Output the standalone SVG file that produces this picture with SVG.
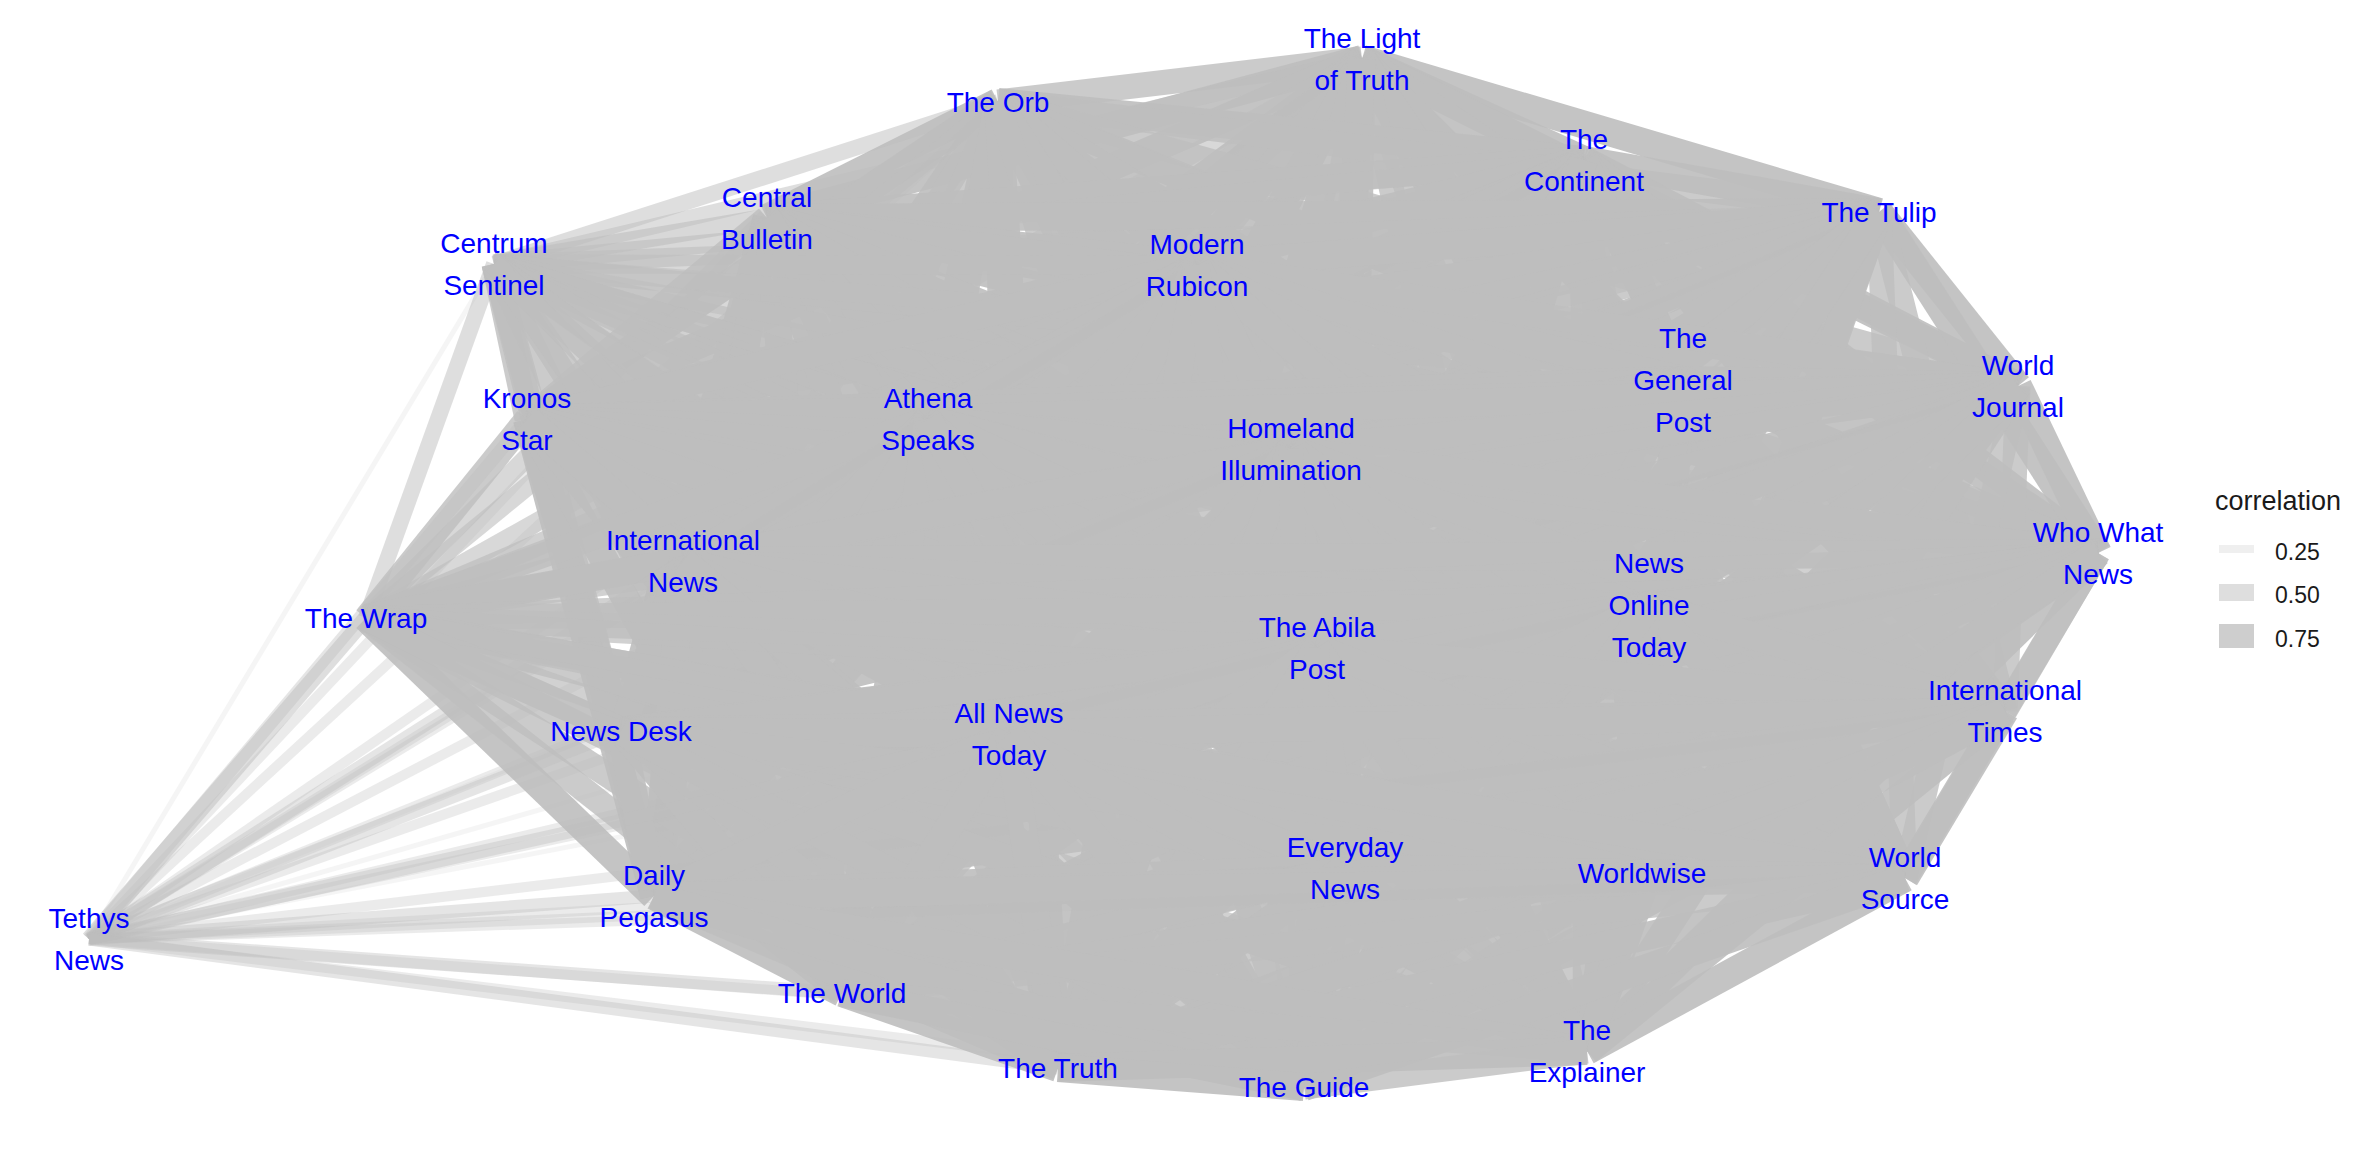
<svg xmlns="http://www.w3.org/2000/svg" width="2355" height="1156" viewBox="0 0 2355 1156">
<style>
.edges line{stroke:#bebebe;stroke-linecap:butt;fill:none}
.a1{stroke-width:5;stroke-opacity:.15}
.a2{stroke-width:10;stroke-opacity:.3}
.a3{stroke-width:13;stroke-opacity:.4}
.a4{stroke-width:16;stroke-opacity:.5}
.a5{stroke-width:19;stroke-opacity:.6}
.a6{stroke-width:22;stroke-opacity:.7}
.a7{stroke-width:25;stroke-opacity:.8}
.a8{stroke-width:28;stroke-opacity:.9}
.lbl{font-family:"Liberation Sans",Arial,sans-serif;font-size:28px;fill:#0000ff;text-anchor:middle}
.lt{font-family:"Liberation Sans",Arial,sans-serif;fill:#1a1a1a}
.key{fill:#bebebe}
</style>
<rect width="2355" height="1156" fill="#ffffff"/>
<g class="edges" id="connectors">
<line class="a7" x1="1362" y1="59" x2="998" y2="102"/>
<line class="a8" x1="1362" y1="59" x2="1584" y2="160"/>
<line class="a8" x1="1362" y1="59" x2="1879" y2="212"/>
<line class="a8" x1="1362" y1="59" x2="767" y2="218"/>
<line class="a4" x1="1362" y1="59" x2="494" y2="264"/>
<line class="a7" x1="1362" y1="59" x2="1197" y2="265"/>
<line class="a8" x1="1362" y1="59" x2="1683" y2="380"/>
<line class="a8" x1="1362" y1="59" x2="2018" y2="386"/>
<line class="a8" x1="1362" y1="59" x2="527" y2="419"/>
<line class="a8" x1="1362" y1="59" x2="928" y2="419"/>
<line class="a7" x1="1362" y1="59" x2="1291" y2="449"/>
<line class="a8" x1="1362" y1="59" x2="683" y2="561"/>
<line class="a8" x1="1362" y1="59" x2="2098" y2="553"/>
<line class="a5" x1="1362" y1="59" x2="366" y2="618"/>
<line class="a8" x1="1362" y1="59" x2="1649" y2="605"/>
<line class="a7" x1="1362" y1="59" x2="1317" y2="648"/>
<line class="a8" x1="1362" y1="59" x2="2005" y2="711"/>
<line class="a8" x1="1362" y1="59" x2="621" y2="731"/>
<line class="a8" x1="1362" y1="59" x2="1009" y2="734"/>
<line class="a8" x1="1362" y1="59" x2="1345" y2="868"/>
<line class="a7" x1="1362" y1="59" x2="1642" y2="873"/>
<line class="a8" x1="1362" y1="59" x2="1905" y2="878"/>
<line class="a8" x1="1362" y1="59" x2="654" y2="896"/>
<line class="a2" x1="1362" y1="59" x2="89" y2="939"/>
<line class="a8" x1="1362" y1="59" x2="842" y2="993"/>
<line class="a7" x1="1362" y1="59" x2="1587" y2="1051"/>
<line class="a8" x1="1362" y1="59" x2="1058" y2="1068"/>
<line class="a8" x1="1362" y1="59" x2="1304" y2="1087"/>
<line class="a8" x1="998" y1="102" x2="1584" y2="160"/>
<line class="a7" x1="998" y1="102" x2="1879" y2="212"/>
<line class="a8" x1="998" y1="102" x2="767" y2="218"/>
<line class="a4" x1="998" y1="102" x2="494" y2="264"/>
<line class="a8" x1="998" y1="102" x2="1197" y2="265"/>
<line class="a8" x1="998" y1="102" x2="1683" y2="380"/>
<line class="a7" x1="998" y1="102" x2="2018" y2="386"/>
<line class="a8" x1="998" y1="102" x2="527" y2="419"/>
<line class="a8" x1="998" y1="102" x2="928" y2="419"/>
<line class="a8" x1="998" y1="102" x2="1291" y2="449"/>
<line class="a8" x1="998" y1="102" x2="683" y2="561"/>
<line class="a7" x1="998" y1="102" x2="2098" y2="553"/>
<line class="a5" x1="998" y1="102" x2="366" y2="618"/>
<line class="a8" x1="998" y1="102" x2="1649" y2="605"/>
<line class="a8" x1="998" y1="102" x2="1317" y2="648"/>
<line class="a8" x1="998" y1="102" x2="2005" y2="711"/>
<line class="a7" x1="998" y1="102" x2="621" y2="731"/>
<line class="a8" x1="998" y1="102" x2="1009" y2="734"/>
<line class="a8" x1="998" y1="102" x2="1345" y2="868"/>
<line class="a8" x1="998" y1="102" x2="1642" y2="873"/>
<line class="a8" x1="998" y1="102" x2="1905" y2="878"/>
<line class="a7" x1="998" y1="102" x2="654" y2="896"/>
<line class="a2" x1="998" y1="102" x2="89" y2="939"/>
<line class="a8" x1="998" y1="102" x2="842" y2="993"/>
<line class="a8" x1="998" y1="102" x2="1587" y2="1051"/>
<line class="a8" x1="998" y1="102" x2="1058" y2="1068"/>
<line class="a7" x1="998" y1="102" x2="1304" y2="1087"/>
<line class="a8" x1="1584" y1="160" x2="1879" y2="212"/>
<line class="a8" x1="1584" y1="160" x2="767" y2="218"/>
<line class="a5" x1="1584" y1="160" x2="494" y2="264"/>
<line class="a8" x1="1584" y1="160" x2="1197" y2="265"/>
<line class="a8" x1="1584" y1="160" x2="1683" y2="380"/>
<line class="a8" x1="1584" y1="160" x2="2018" y2="386"/>
<line class="a8" x1="1584" y1="160" x2="527" y2="419"/>
<line class="a7" x1="1584" y1="160" x2="928" y2="419"/>
<line class="a8" x1="1584" y1="160" x2="1291" y2="449"/>
<line class="a8" x1="1584" y1="160" x2="683" y2="561"/>
<line class="a8" x1="1584" y1="160" x2="2098" y2="553"/>
<line class="a6" x1="1584" y1="160" x2="366" y2="618"/>
<line class="a7" x1="1584" y1="160" x2="1649" y2="605"/>
<line class="a8" x1="1584" y1="160" x2="1317" y2="648"/>
<line class="a8" x1="1584" y1="160" x2="2005" y2="711"/>
<line class="a8" x1="1584" y1="160" x2="621" y2="731"/>
<line class="a8" x1="1584" y1="160" x2="1009" y2="734"/>
<line class="a7" x1="1584" y1="160" x2="1345" y2="868"/>
<line class="a8" x1="1584" y1="160" x2="1642" y2="873"/>
<line class="a8" x1="1584" y1="160" x2="1905" y2="878"/>
<line class="a8" x1="1584" y1="160" x2="654" y2="896"/>
<line class="a2" x1="1584" y1="160" x2="89" y2="939"/>
<line class="a7" x1="1584" y1="160" x2="842" y2="993"/>
<line class="a8" x1="1584" y1="160" x2="1587" y2="1051"/>
<line class="a8" x1="1584" y1="160" x2="1058" y2="1068"/>
<line class="a8" x1="1584" y1="160" x2="1304" y2="1087"/>
<line class="a8" x1="1879" y1="212" x2="767" y2="218"/>
<line class="a5" x1="1879" y1="212" x2="494" y2="264"/>
<line class="a8" x1="1879" y1="212" x2="1197" y2="265"/>
<line class="a7" x1="1879" y1="212" x2="1683" y2="380"/>
<line class="a8" x1="1879" y1="212" x2="2018" y2="386"/>
<line class="a8" x1="1879" y1="212" x2="527" y2="419"/>
<line class="a8" x1="1879" y1="212" x2="928" y2="419"/>
<line class="a8" x1="1879" y1="212" x2="1291" y2="449"/>
<line class="a7" x1="1879" y1="212" x2="683" y2="561"/>
<line class="a8" x1="1879" y1="212" x2="2098" y2="553"/>
<line class="a6" x1="1879" y1="212" x2="366" y2="618"/>
<line class="a8" x1="1879" y1="212" x2="1649" y2="605"/>
<line class="a8" x1="1879" y1="212" x2="1317" y2="648"/>
<line class="a7" x1="1879" y1="212" x2="2005" y2="711"/>
<line class="a8" x1="1879" y1="212" x2="621" y2="731"/>
<line class="a8" x1="1879" y1="212" x2="1009" y2="734"/>
<line class="a8" x1="1879" y1="212" x2="1345" y2="868"/>
<line class="a8" x1="1879" y1="212" x2="1642" y2="873"/>
<line class="a7" x1="1879" y1="212" x2="1905" y2="878"/>
<line class="a8" x1="1879" y1="212" x2="654" y2="896"/>
<line class="a1" x1="1879" y1="212" x2="89" y2="939"/>
<line class="a8" x1="1879" y1="212" x2="842" y2="993"/>
<line class="a8" x1="1879" y1="212" x2="1587" y2="1051"/>
<line class="a7" x1="1879" y1="212" x2="1058" y2="1068"/>
<line class="a8" x1="1879" y1="212" x2="1304" y2="1087"/>
<line class="a5" x1="767" y1="218" x2="494" y2="264"/>
<line class="a8" x1="767" y1="218" x2="1197" y2="265"/>
<line class="a8" x1="767" y1="218" x2="1683" y2="380"/>
<line class="a8" x1="767" y1="218" x2="2018" y2="386"/>
<line class="a7" x1="767" y1="218" x2="527" y2="419"/>
<line class="a8" x1="767" y1="218" x2="928" y2="419"/>
<line class="a8" x1="767" y1="218" x2="1291" y2="449"/>
<line class="a8" x1="767" y1="218" x2="683" y2="561"/>
<line class="a8" x1="767" y1="218" x2="2098" y2="553"/>
<line class="a5" x1="767" y1="218" x2="366" y2="618"/>
<line class="a8" x1="767" y1="218" x2="1649" y2="605"/>
<line class="a8" x1="767" y1="218" x2="1317" y2="648"/>
<line class="a8" x1="767" y1="218" x2="2005" y2="711"/>
<line class="a8" x1="767" y1="218" x2="621" y2="731"/>
<line class="a7" x1="767" y1="218" x2="1009" y2="734"/>
<line class="a8" x1="767" y1="218" x2="1345" y2="868"/>
<line class="a8" x1="767" y1="218" x2="1642" y2="873"/>
<line class="a8" x1="767" y1="218" x2="1905" y2="878"/>
<line class="a8" x1="767" y1="218" x2="654" y2="896"/>
<line class="a2" x1="767" y1="218" x2="89" y2="939"/>
<line class="a8" x1="767" y1="218" x2="842" y2="993"/>
<line class="a8" x1="767" y1="218" x2="1587" y2="1051"/>
<line class="a8" x1="767" y1="218" x2="1058" y2="1068"/>
<line class="a8" x1="767" y1="218" x2="1304" y2="1087"/>
<line class="a5" x1="494" y1="264" x2="1197" y2="265"/>
<line class="a6" x1="494" y1="264" x2="1683" y2="380"/>
<line class="a5" x1="494" y1="264" x2="2018" y2="386"/>
<line class="a7" x1="494" y1="264" x2="527" y2="419"/>
<line class="a6" x1="494" y1="264" x2="928" y2="419"/>
<line class="a6" x1="494" y1="264" x2="1291" y2="449"/>
<line class="a7" x1="494" y1="264" x2="683" y2="561"/>
<line class="a5" x1="494" y1="264" x2="2098" y2="553"/>
<line class="a4" x1="494" y1="264" x2="366" y2="618"/>
<line class="a6" x1="494" y1="264" x2="1649" y2="605"/>
<line class="a6" x1="494" y1="264" x2="1317" y2="648"/>
<line class="a6" x1="494" y1="264" x2="2005" y2="711"/>
<line class="a7" x1="494" y1="264" x2="621" y2="731"/>
<line class="a7" x1="494" y1="264" x2="1009" y2="734"/>
<line class="a6" x1="494" y1="264" x2="1345" y2="868"/>
<line class="a6" x1="494" y1="264" x2="1642" y2="873"/>
<line class="a6" x1="494" y1="264" x2="1905" y2="878"/>
<line class="a7" x1="494" y1="264" x2="654" y2="896"/>
<line class="a1" x1="494" y1="264" x2="89" y2="939"/>
<line class="a7" x1="494" y1="264" x2="842" y2="993"/>
<line class="a6" x1="494" y1="264" x2="1587" y2="1051"/>
<line class="a7" x1="494" y1="264" x2="1058" y2="1068"/>
<line class="a6" x1="494" y1="264" x2="1304" y2="1087"/>
<line class="a8" x1="1197" y1="265" x2="1683" y2="380"/>
<line class="a7" x1="1197" y1="265" x2="2018" y2="386"/>
<line class="a8" x1="1197" y1="265" x2="527" y2="419"/>
<line class="a8" x1="1197" y1="265" x2="928" y2="419"/>
<line class="a8" x1="1197" y1="265" x2="1291" y2="449"/>
<line class="a8" x1="1197" y1="265" x2="683" y2="561"/>
<line class="a7" x1="1197" y1="265" x2="2098" y2="553"/>
<line class="a6" x1="1197" y1="265" x2="366" y2="618"/>
<line class="a8" x1="1197" y1="265" x2="1649" y2="605"/>
<line class="a8" x1="1197" y1="265" x2="1317" y2="648"/>
<line class="a8" x1="1197" y1="265" x2="2005" y2="711"/>
<line class="a7" x1="1197" y1="265" x2="621" y2="731"/>
<line class="a8" x1="1197" y1="265" x2="1009" y2="734"/>
<line class="a8" x1="1197" y1="265" x2="1345" y2="868"/>
<line class="a8" x1="1197" y1="265" x2="1642" y2="873"/>
<line class="a8" x1="1197" y1="265" x2="1905" y2="878"/>
<line class="a7" x1="1197" y1="265" x2="654" y2="896"/>
<line class="a2" x1="1197" y1="265" x2="89" y2="939"/>
<line class="a8" x1="1197" y1="265" x2="842" y2="993"/>
<line class="a8" x1="1197" y1="265" x2="1587" y2="1051"/>
<line class="a8" x1="1197" y1="265" x2="1058" y2="1068"/>
<line class="a7" x1="1197" y1="265" x2="1304" y2="1087"/>
<line class="a8" x1="1683" y1="380" x2="2018" y2="386"/>
<line class="a8" x1="1683" y1="380" x2="527" y2="419"/>
<line class="a7" x1="1683" y1="380" x2="928" y2="419"/>
<line class="a8" x1="1683" y1="380" x2="1291" y2="449"/>
<line class="a8" x1="1683" y1="380" x2="683" y2="561"/>
<line class="a8" x1="1683" y1="380" x2="2098" y2="553"/>
<line class="a7" x1="1683" y1="380" x2="366" y2="618"/>
<line class="a7" x1="1683" y1="380" x2="1649" y2="605"/>
<line class="a8" x1="1683" y1="380" x2="1317" y2="648"/>
<line class="a8" x1="1683" y1="380" x2="2005" y2="711"/>
<line class="a8" x1="1683" y1="380" x2="621" y2="731"/>
<line class="a8" x1="1683" y1="380" x2="1009" y2="734"/>
<line class="a7" x1="1683" y1="380" x2="1345" y2="868"/>
<line class="a8" x1="1683" y1="380" x2="1642" y2="873"/>
<line class="a8" x1="1683" y1="380" x2="1905" y2="878"/>
<line class="a8" x1="1683" y1="380" x2="654" y2="896"/>
<line class="a2" x1="1683" y1="380" x2="89" y2="939"/>
<line class="a7" x1="1683" y1="380" x2="842" y2="993"/>
<line class="a8" x1="1683" y1="380" x2="1587" y2="1051"/>
<line class="a8" x1="1683" y1="380" x2="1058" y2="1068"/>
<line class="a8" x1="1683" y1="380" x2="1304" y2="1087"/>
<line class="a8" x1="2018" y1="386" x2="527" y2="419"/>
<line class="a8" x1="2018" y1="386" x2="928" y2="419"/>
<line class="a8" x1="2018" y1="386" x2="1291" y2="449"/>
<line class="a7" x1="2018" y1="386" x2="683" y2="561"/>
<line class="a8" x1="2018" y1="386" x2="2098" y2="553"/>
<line class="a6" x1="2018" y1="386" x2="366" y2="618"/>
<line class="a8" x1="2018" y1="386" x2="1649" y2="605"/>
<line class="a8" x1="2018" y1="386" x2="1317" y2="648"/>
<line class="a7" x1="2018" y1="386" x2="2005" y2="711"/>
<line class="a8" x1="2018" y1="386" x2="621" y2="731"/>
<line class="a8" x1="2018" y1="386" x2="1009" y2="734"/>
<line class="a8" x1="2018" y1="386" x2="1345" y2="868"/>
<line class="a8" x1="2018" y1="386" x2="1642" y2="873"/>
<line class="a7" x1="2018" y1="386" x2="1905" y2="878"/>
<line class="a8" x1="2018" y1="386" x2="654" y2="896"/>
<line class="a1" x1="2018" y1="386" x2="89" y2="939"/>
<line class="a8" x1="2018" y1="386" x2="842" y2="993"/>
<line class="a8" x1="2018" y1="386" x2="1587" y2="1051"/>
<line class="a7" x1="2018" y1="386" x2="1058" y2="1068"/>
<line class="a8" x1="2018" y1="386" x2="1304" y2="1087"/>
<line class="a8" x1="527" y1="419" x2="928" y2="419"/>
<line class="a8" x1="527" y1="419" x2="1291" y2="449"/>
<line class="a8" x1="527" y1="419" x2="683" y2="561"/>
<line class="a8" x1="527" y1="419" x2="2098" y2="553"/>
<line class="a7" x1="527" y1="419" x2="366" y2="618"/>
<line class="a8" x1="527" y1="419" x2="1649" y2="605"/>
<line class="a8" x1="527" y1="419" x2="1317" y2="648"/>
<line class="a8" x1="527" y1="419" x2="2005" y2="711"/>
<line class="a8" x1="527" y1="419" x2="621" y2="731"/>
<line class="a7" x1="527" y1="419" x2="1009" y2="734"/>
<line class="a8" x1="527" y1="419" x2="1345" y2="868"/>
<line class="a8" x1="527" y1="419" x2="1642" y2="873"/>
<line class="a8" x1="527" y1="419" x2="1905" y2="878"/>
<line class="a8" x1="527" y1="419" x2="654" y2="896"/>
<line class="a3" x1="527" y1="419" x2="89" y2="939"/>
<line class="a8" x1="527" y1="419" x2="842" y2="993"/>
<line class="a8" x1="527" y1="419" x2="1587" y2="1051"/>
<line class="a8" x1="527" y1="419" x2="1058" y2="1068"/>
<line class="a8" x1="527" y1="419" x2="1304" y2="1087"/>
<line class="a7" x1="928" y1="419" x2="1291" y2="449"/>
<line class="a8" x1="928" y1="419" x2="683" y2="561"/>
<line class="a8" x1="928" y1="419" x2="2098" y2="553"/>
<line class="a7" x1="928" y1="419" x2="366" y2="618"/>
<line class="a8" x1="928" y1="419" x2="1649" y2="605"/>
<line class="a7" x1="928" y1="419" x2="1317" y2="648"/>
<line class="a8" x1="928" y1="419" x2="2005" y2="711"/>
<line class="a8" x1="928" y1="419" x2="621" y2="731"/>
<line class="a8" x1="928" y1="419" x2="1009" y2="734"/>
<line class="a8" x1="928" y1="419" x2="1345" y2="868"/>
<line class="a7" x1="928" y1="419" x2="1642" y2="873"/>
<line class="a8" x1="928" y1="419" x2="1905" y2="878"/>
<line class="a8" x1="928" y1="419" x2="654" y2="896"/>
<line class="a2" x1="928" y1="419" x2="89" y2="939"/>
<line class="a8" x1="928" y1="419" x2="842" y2="993"/>
<line class="a7" x1="928" y1="419" x2="1587" y2="1051"/>
<line class="a8" x1="928" y1="419" x2="1058" y2="1068"/>
<line class="a8" x1="928" y1="419" x2="1304" y2="1087"/>
<line class="a8" x1="1291" y1="449" x2="683" y2="561"/>
<line class="a7" x1="1291" y1="449" x2="2098" y2="553"/>
<line class="a7" x1="1291" y1="449" x2="366" y2="618"/>
<line class="a8" x1="1291" y1="449" x2="1649" y2="605"/>
<line class="a8" x1="1291" y1="449" x2="1317" y2="648"/>
<line class="a8" x1="1291" y1="449" x2="2005" y2="711"/>
<line class="a7" x1="1291" y1="449" x2="621" y2="731"/>
<line class="a8" x1="1291" y1="449" x2="1009" y2="734"/>
<line class="a8" x1="1291" y1="449" x2="1345" y2="868"/>
<line class="a8" x1="1291" y1="449" x2="1642" y2="873"/>
<line class="a8" x1="1291" y1="449" x2="1905" y2="878"/>
<line class="a7" x1="1291" y1="449" x2="654" y2="896"/>
<line class="a2" x1="1291" y1="449" x2="89" y2="939"/>
<line class="a8" x1="1291" y1="449" x2="842" y2="993"/>
<line class="a8" x1="1291" y1="449" x2="1587" y2="1051"/>
<line class="a8" x1="1291" y1="449" x2="1058" y2="1068"/>
<line class="a7" x1="1291" y1="449" x2="1304" y2="1087"/>
<line class="a8" x1="683" y1="561" x2="2098" y2="553"/>
<line class="a8" x1="683" y1="561" x2="366" y2="618"/>
<line class="a7" x1="683" y1="561" x2="1649" y2="605"/>
<line class="a8" x1="683" y1="561" x2="1317" y2="648"/>
<line class="a8" x1="683" y1="561" x2="2005" y2="711"/>
<line class="a8" x1="683" y1="561" x2="621" y2="731"/>
<line class="a8" x1="683" y1="561" x2="1009" y2="734"/>
<line class="a7" x1="683" y1="561" x2="1345" y2="868"/>
<line class="a8" x1="683" y1="561" x2="1642" y2="873"/>
<line class="a8" x1="683" y1="561" x2="1905" y2="878"/>
<line class="a8" x1="683" y1="561" x2="654" y2="896"/>
<line class="a3" x1="683" y1="561" x2="89" y2="939"/>
<line class="a7" x1="683" y1="561" x2="842" y2="993"/>
<line class="a8" x1="683" y1="561" x2="1587" y2="1051"/>
<line class="a8" x1="683" y1="561" x2="1058" y2="1068"/>
<line class="a8" x1="683" y1="561" x2="1304" y2="1087"/>
<line class="a6" x1="2098" y1="553" x2="366" y2="618"/>
<line class="a8" x1="2098" y1="553" x2="1649" y2="605"/>
<line class="a8" x1="2098" y1="553" x2="1317" y2="648"/>
<line class="a7" x1="2098" y1="553" x2="2005" y2="711"/>
<line class="a8" x1="2098" y1="553" x2="621" y2="731"/>
<line class="a8" x1="2098" y1="553" x2="1009" y2="734"/>
<line class="a8" x1="2098" y1="553" x2="1345" y2="868"/>
<line class="a8" x1="2098" y1="553" x2="1642" y2="873"/>
<line class="a7" x1="2098" y1="553" x2="1905" y2="878"/>
<line class="a8" x1="2098" y1="553" x2="654" y2="896"/>
<line class="a1" x1="2098" y1="553" x2="89" y2="939"/>
<line class="a8" x1="2098" y1="553" x2="842" y2="993"/>
<line class="a8" x1="2098" y1="553" x2="1587" y2="1051"/>
<line class="a7" x1="2098" y1="553" x2="1058" y2="1068"/>
<line class="a8" x1="2098" y1="553" x2="1304" y2="1087"/>
<line class="a7" x1="366" y1="618" x2="1649" y2="605"/>
<line class="a7" x1="366" y1="618" x2="1317" y2="648"/>
<line class="a6" x1="366" y1="618" x2="2005" y2="711"/>
<line class="a8" x1="366" y1="618" x2="621" y2="731"/>
<line class="a8" x1="366" y1="618" x2="1009" y2="734"/>
<line class="a7" x1="366" y1="618" x2="1345" y2="868"/>
<line class="a7" x1="366" y1="618" x2="1642" y2="873"/>
<line class="a6" x1="366" y1="618" x2="1905" y2="878"/>
<line class="a8" x1="366" y1="618" x2="654" y2="896"/>
<line class="a4" x1="366" y1="618" x2="89" y2="939"/>
<line class="a7" x1="366" y1="618" x2="842" y2="993"/>
<line class="a6" x1="366" y1="618" x2="1587" y2="1051"/>
<line class="a7" x1="366" y1="618" x2="1058" y2="1068"/>
<line class="a7" x1="366" y1="618" x2="1304" y2="1087"/>
<line class="a7" x1="1649" y1="605" x2="1317" y2="648"/>
<line class="a8" x1="1649" y1="605" x2="2005" y2="711"/>
<line class="a8" x1="1649" y1="605" x2="621" y2="731"/>
<line class="a8" x1="1649" y1="605" x2="1009" y2="734"/>
<line class="a8" x1="1649" y1="605" x2="1345" y2="868"/>
<line class="a7" x1="1649" y1="605" x2="1642" y2="873"/>
<line class="a8" x1="1649" y1="605" x2="1905" y2="878"/>
<line class="a8" x1="1649" y1="605" x2="654" y2="896"/>
<line class="a2" x1="1649" y1="605" x2="89" y2="939"/>
<line class="a8" x1="1649" y1="605" x2="842" y2="993"/>
<line class="a7" x1="1649" y1="605" x2="1587" y2="1051"/>
<line class="a8" x1="1649" y1="605" x2="1058" y2="1068"/>
<line class="a8" x1="1649" y1="605" x2="1304" y2="1087"/>
<line class="a8" x1="1317" y1="648" x2="2005" y2="711"/>
<line class="a7" x1="1317" y1="648" x2="621" y2="731"/>
<line class="a8" x1="1317" y1="648" x2="1009" y2="734"/>
<line class="a8" x1="1317" y1="648" x2="1345" y2="868"/>
<line class="a8" x1="1317" y1="648" x2="1642" y2="873"/>
<line class="a8" x1="1317" y1="648" x2="1905" y2="878"/>
<line class="a7" x1="1317" y1="648" x2="654" y2="896"/>
<line class="a2" x1="1317" y1="648" x2="89" y2="939"/>
<line class="a8" x1="1317" y1="648" x2="842" y2="993"/>
<line class="a8" x1="1317" y1="648" x2="1587" y2="1051"/>
<line class="a8" x1="1317" y1="648" x2="1058" y2="1068"/>
<line class="a7" x1="1317" y1="648" x2="1304" y2="1087"/>
<line class="a8" x1="2005" y1="711" x2="621" y2="731"/>
<line class="a8" x1="2005" y1="711" x2="1009" y2="734"/>
<line class="a7" x1="2005" y1="711" x2="1345" y2="868"/>
<line class="a8" x1="2005" y1="711" x2="1642" y2="873"/>
<line class="a8" x1="2005" y1="711" x2="1905" y2="878"/>
<line class="a8" x1="2005" y1="711" x2="654" y2="896"/>
<line class="a2" x1="2005" y1="711" x2="89" y2="939"/>
<line class="a7" x1="2005" y1="711" x2="842" y2="993"/>
<line class="a8" x1="2005" y1="711" x2="1587" y2="1051"/>
<line class="a8" x1="2005" y1="711" x2="1058" y2="1068"/>
<line class="a8" x1="2005" y1="711" x2="1304" y2="1087"/>
<line class="a8" x1="621" y1="731" x2="1009" y2="734"/>
<line class="a8" x1="621" y1="731" x2="1345" y2="868"/>
<line class="a8" x1="621" y1="731" x2="1642" y2="873"/>
<line class="a7" x1="621" y1="731" x2="1905" y2="878"/>
<line class="a8" x1="621" y1="731" x2="654" y2="896"/>
<line class="a3" x1="621" y1="731" x2="89" y2="939"/>
<line class="a8" x1="621" y1="731" x2="842" y2="993"/>
<line class="a8" x1="621" y1="731" x2="1587" y2="1051"/>
<line class="a7" x1="621" y1="731" x2="1058" y2="1068"/>
<line class="a8" x1="621" y1="731" x2="1304" y2="1087"/>
<line class="a8" x1="1009" y1="734" x2="1345" y2="868"/>
<line class="a8" x1="1009" y1="734" x2="1642" y2="873"/>
<line class="a8" x1="1009" y1="734" x2="1905" y2="878"/>
<line class="a8" x1="1009" y1="734" x2="654" y2="896"/>
<line class="a3" x1="1009" y1="734" x2="89" y2="939"/>
<line class="a8" x1="1009" y1="734" x2="842" y2="993"/>
<line class="a8" x1="1009" y1="734" x2="1587" y2="1051"/>
<line class="a8" x1="1009" y1="734" x2="1058" y2="1068"/>
<line class="a8" x1="1009" y1="734" x2="1304" y2="1087"/>
<line class="a7" x1="1345" y1="868" x2="1642" y2="873"/>
<line class="a8" x1="1345" y1="868" x2="1905" y2="878"/>
<line class="a8" x1="1345" y1="868" x2="654" y2="896"/>
<line class="a2" x1="1345" y1="868" x2="89" y2="939"/>
<line class="a8" x1="1345" y1="868" x2="842" y2="993"/>
<line class="a7" x1="1345" y1="868" x2="1587" y2="1051"/>
<line class="a8" x1="1345" y1="868" x2="1058" y2="1068"/>
<line class="a8" x1="1345" y1="868" x2="1304" y2="1087"/>
<line class="a8" x1="1642" y1="873" x2="1905" y2="878"/>
<line class="a7" x1="1642" y1="873" x2="654" y2="896"/>
<line class="a2" x1="1642" y1="873" x2="89" y2="939"/>
<line class="a8" x1="1642" y1="873" x2="842" y2="993"/>
<line class="a8" x1="1642" y1="873" x2="1587" y2="1051"/>
<line class="a8" x1="1642" y1="873" x2="1058" y2="1068"/>
<line class="a7" x1="1642" y1="873" x2="1304" y2="1087"/>
<line class="a8" x1="1905" y1="878" x2="654" y2="896"/>
<line class="a2" x1="1905" y1="878" x2="89" y2="939"/>
<line class="a7" x1="1905" y1="878" x2="842" y2="993"/>
<line class="a8" x1="1905" y1="878" x2="1587" y2="1051"/>
<line class="a8" x1="1905" y1="878" x2="1058" y2="1068"/>
<line class="a8" x1="1905" y1="878" x2="1304" y2="1087"/>
<line class="a3" x1="654" y1="896" x2="89" y2="939"/>
<line class="a8" x1="654" y1="896" x2="842" y2="993"/>
<line class="a8" x1="654" y1="896" x2="1587" y2="1051"/>
<line class="a7" x1="654" y1="896" x2="1058" y2="1068"/>
<line class="a8" x1="654" y1="896" x2="1304" y2="1087"/>
<line class="a3" x1="89" y1="939" x2="842" y2="993"/>
<line class="a2" x1="89" y1="939" x2="1587" y2="1051"/>
<line class="a3" x1="89" y1="939" x2="1058" y2="1068"/>
<line class="a2" x1="89" y1="939" x2="1304" y2="1087"/>
<line class="a7" x1="842" y1="993" x2="1587" y2="1051"/>
<line class="a8" x1="842" y1="993" x2="1058" y2="1068"/>
<line class="a8" x1="842" y1="993" x2="1304" y2="1087"/>
<line class="a8" x1="1587" y1="1051" x2="1058" y2="1068"/>
<line class="a7" x1="1587" y1="1051" x2="1304" y2="1087"/>
<line class="a8" x1="1058" y1="1068" x2="1304" y2="1087"/>
</g>
<g id="nodes">
<g id="n-the-light-of-truth"><text class="lbl"><tspan x="1362" y="48">The Light</tspan><tspan x="1362" y="90">of Truth</tspan></text></g>
<g id="n-the-orb"><text class="lbl" x="998" y="112">The Orb</text></g>
<g id="n-the-continent"><text class="lbl"><tspan x="1584" y="149">The</tspan><tspan x="1584" y="191">Continent</tspan></text></g>
<g id="n-the-tulip"><text class="lbl" x="1879" y="222">The Tulip</text></g>
<g id="n-central-bulletin"><text class="lbl"><tspan x="767" y="207">Central</tspan><tspan x="767" y="249">Bulletin</tspan></text></g>
<g id="n-centrum-sentinel"><text class="lbl"><tspan x="494" y="253">Centrum</tspan><tspan x="494" y="295">Sentinel</tspan></text></g>
<g id="n-modern-rubicon"><text class="lbl"><tspan x="1197" y="254">Modern</tspan><tspan x="1197" y="296">Rubicon</tspan></text></g>
<g id="n-the-general-post"><text class="lbl"><tspan x="1683" y="348">The</tspan><tspan x="1683" y="390">General</tspan><tspan x="1683" y="432">Post</tspan></text></g>
<g id="n-world-journal"><text class="lbl"><tspan x="2018" y="375">World</tspan><tspan x="2018" y="417">Journal</tspan></text></g>
<g id="n-kronos-star"><text class="lbl"><tspan x="527" y="408">Kronos</tspan><tspan x="527" y="450">Star</tspan></text></g>
<g id="n-athena-speaks"><text class="lbl"><tspan x="928" y="408">Athena</tspan><tspan x="928" y="450">Speaks</tspan></text></g>
<g id="n-homeland-illumination"><text class="lbl"><tspan x="1291" y="438">Homeland</tspan><tspan x="1291" y="480">Illumination</tspan></text></g>
<g id="n-international-news"><text class="lbl"><tspan x="683" y="550">International</tspan><tspan x="683" y="592">News</tspan></text></g>
<g id="n-who-what-news"><text class="lbl"><tspan x="2098" y="542">Who What</tspan><tspan x="2098" y="584">News</tspan></text></g>
<g id="n-the-wrap"><text class="lbl" x="366" y="628">The Wrap</text></g>
<g id="n-news-online-today"><text class="lbl"><tspan x="1649" y="573">News</tspan><tspan x="1649" y="615">Online</tspan><tspan x="1649" y="657">Today</tspan></text></g>
<g id="n-the-abila-post"><text class="lbl"><tspan x="1317" y="637">The Abila</tspan><tspan x="1317" y="679">Post</tspan></text></g>
<g id="n-international-times"><text class="lbl"><tspan x="2005" y="700">International</tspan><tspan x="2005" y="742">Times</tspan></text></g>
<g id="n-news-desk"><text class="lbl" x="621" y="741">News Desk</text></g>
<g id="n-all-news-today"><text class="lbl"><tspan x="1009" y="723">All News</tspan><tspan x="1009" y="765">Today</tspan></text></g>
<g id="n-everyday-news"><text class="lbl"><tspan x="1345" y="857">Everyday</tspan><tspan x="1345" y="899">News</tspan></text></g>
<g id="n-worldwise"><text class="lbl" x="1642" y="883">Worldwise</text></g>
<g id="n-world-source"><text class="lbl"><tspan x="1905" y="867">World</tspan><tspan x="1905" y="909">Source</tspan></text></g>
<g id="n-daily-pegasus"><text class="lbl"><tspan x="654" y="885">Daily</tspan><tspan x="654" y="927">Pegasus</tspan></text></g>
<g id="n-tethys-news"><text class="lbl"><tspan x="89" y="928">Tethys</tspan><tspan x="89" y="970">News</tspan></text></g>
<g id="n-the-world"><text class="lbl" x="842" y="1003">The World</text></g>
<g id="n-the-explainer"><text class="lbl"><tspan x="1587" y="1040">The</tspan><tspan x="1587" y="1082">Explainer</tspan></text></g>
<g id="n-the-truth"><text class="lbl" x="1058" y="1078">The Truth</text></g>
<g id="n-the-guide"><text class="lbl" x="1304" y="1097">The Guide</text></g>
</g>
<g id="legend">
<text class="lt" x="2215" y="510" font-size="27">correlation</text>
<rect class="key" x="2219" y="545" width="35" height="8" fill-opacity="0.25"/>
<rect class="key" x="2219" y="584" width="35" height="17" fill-opacity="0.5"/>
<rect class="key" x="2219" y="624" width="35" height="24" fill-opacity="0.75"/>
<text class="lt" x="2275" y="560" font-size="23">0.25</text>
<text class="lt" x="2275" y="603" font-size="23">0.50</text>
<text class="lt" x="2275" y="647" font-size="23">0.75</text>
</g>
</svg>
